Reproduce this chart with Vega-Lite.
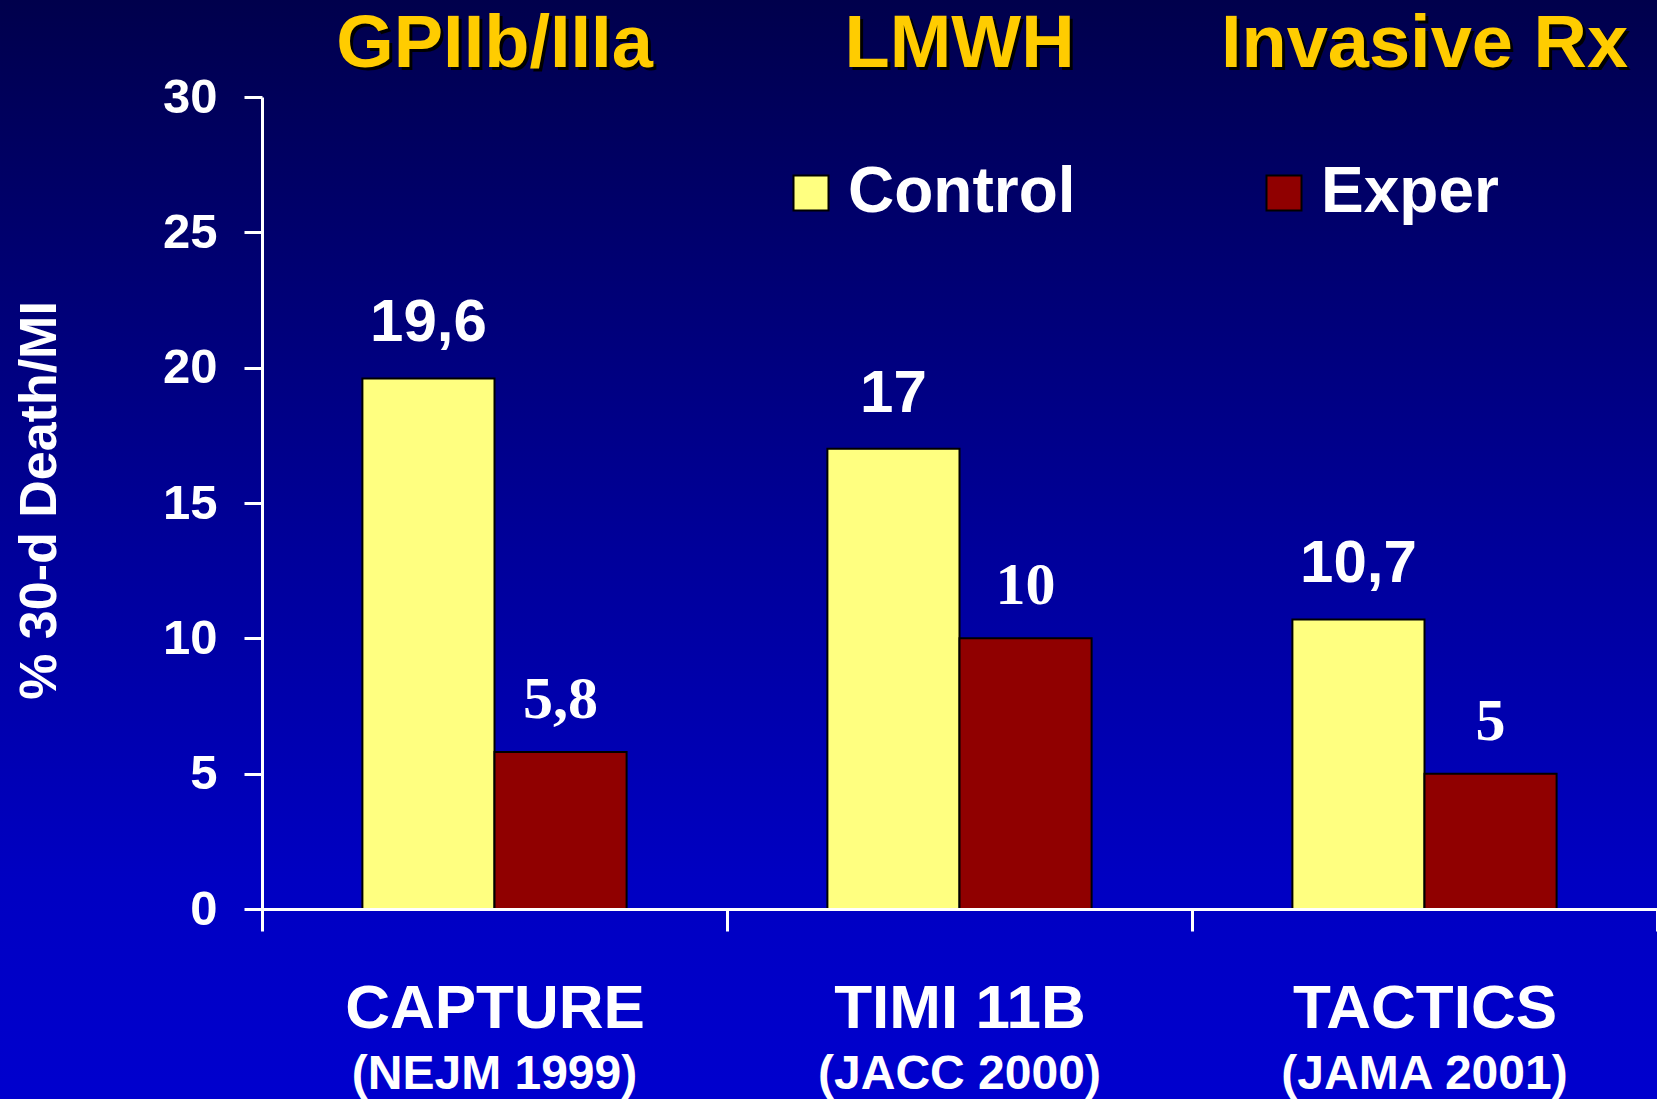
{
  "$schema": "https://vega.github.io/schema/vega-lite/v6.json",
  "width": 1395,
  "height": 812,
  "autosize": {"type": "none"},
  "padding": {"left": 262, "top": 97, "right": 0, "bottom": 190},
  "background": "#0000A0",
  "config": {
    "view": {"stroke": null},
    "font": "Liberation Sans",
    "locale": {"number": {"decimal": ",", "thousands": ".", "grouping": [3], "currency": ["", " €"]}}
  },
  "datasets": {
    "bars": [
      {"trial": "CAPTURE", "series": "Control", "value": 19.6},
      {"trial": "CAPTURE", "series": "Exper", "value": 5.8},
      {"trial": "TIMI 11B", "series": "Control", "value": 17},
      {"trial": "TIMI 11B", "series": "Exper", "value": 10},
      {"trial": "TACTICS", "series": "Control", "value": 10.7},
      {"trial": "TACTICS", "series": "Exper", "value": 5}
    ],
    "groups": [
      {"trial": "CAPTURE", "drug": "GPIIb/IIIa", "cite": "(NEJM 1999)"},
      {"trial": "TIMI 11B", "drug": "LMWH", "cite": "(JACC 2000)"},
      {"trial": "TACTICS", "drug": "Invasive Rx", "cite": "(JAMA 2001)"}
    ],
    "bg": [{"k": 1}]
  },
  "resolve": {"scale": {"x": "independent", "y": "independent"}},
  "layer": [
    {
      "data": {"name": "bg"},
      "mark": {
        "type": "rect",
        "clip": false,
        "fill": {
          "gradient": "linear",
          "x1": 0, "y1": 0, "x2": 0, "y2": 1,
          "stops": [
            {"offset": 0, "color": "#00004C"},
            {"offset": 0.5, "color": "#00009A"},
            {"offset": 0.8, "color": "#0000C2"},
            {"offset": 1, "color": "#0000CE"}
          ]
        }
      },
      "encoding": {
        "x": {"datum": -0.18781, "type": "quantitative", "scale": {"domain": [0, 1], "nice": false, "zero": false}, "axis": null},
        "x2": {"datum": 1},
        "y": {"datum": 1.1195, "type": "quantitative", "scale": {"domain": [0, 1], "nice": false, "zero": false}, "axis": null},
        "y2": {"datum": -0.234}
      }
    },
    {
      "data": {"name": "bars"},
      "layer": [
        {
          "mark": {"type": "bar", "stroke": "black", "strokeWidth": 2},
          "encoding": {
            "x": {
              "field": "trial", "type": "nominal", "sort": ["CAPTURE", "TIMI 11B", "TACTICS"],
              "scale": {"paddingInner": 0, "paddingOuter": 0},
              "title": null,
              "axis": {
                "zindex": 2,
                "tickBand": "extent",
                "domainColor": "white", "domainWidth": 3,
                "tickColor": "white", "tickWidth": 3, "tickSize": 22,
                "labelColor": "white", "labelFont": "Liberation Sans", "labelFontWeight": "bold", "labelFontSize": 62,
                "labelAngle": 0, "labelBaseline": "alphabetic", "labelPadding": 96, "labelLimit": 0
              }
            },
            "xOffset": {"field": "series", "sort": ["Control", "Exper"], "scale": {"domain": ["Control", "Exper"], "paddingInner": 0, "paddingOuter": 0.76}},
            "y": {
              "field": "value", "type": "quantitative",
              "scale": {"domain": [0, 30], "nice": false},
              "title": "% 30-d Death/MI",
              "axis": {
                "zindex": 2,
                "values": [0, 5, 10, 15, 20, 25, 30],
                "grid": false,
                "domainColor": "white", "domainWidth": 3,
                "tickColor": "white", "tickWidth": 3, "tickSize": 18,
                "labelColor": "white", "labelFont": "Liberation Sans", "labelFontWeight": "bold", "labelFontSize": 49,
                "labelPadding": 27,
                "titleColor": "white", "titleFont": "Liberation Sans", "titleFontWeight": "bold", "titleFontSize": 52,
                "titleAngle": 270, "titleAlign": "center", "titleBaseline": "alphabetic",
                "titleX": -207, "titleY": 403
              }
            },
            "color": {
              "field": "series", "type": "nominal",
              "scale": {"domain": ["Control", "Exper"], "range": ["#FFFF80", "#900000"]},
              "legend": {
                "title": null, "orient": "none", "direction": "horizontal",
                "legendX": 517, "legendY": 64, "padding": 0,
                "symbolType": "square", "symbolSize": 1225, "symbolStrokeColor": "black", "symbolStrokeWidth": 2, "symbolOpacity": 1,
                "labelColor": "white", "labelFont": "Liberation Sans", "labelFontWeight": "bold", "labelFontSize": 64,
                "labelOffset": 5, "columnPadding": 176, "labelLimit": 0
              }
            }
          }
        },
        {
          "transform": [{"filter": "datum.series === 'Control'"}],
          "mark": {"type": "text", "color": "white", "font": "Liberation Sans", "fontWeight": "bold", "fontSize": 60, "baseline": "alphabetic", "dy": -37},
          "encoding": {
            "x": {"field": "trial", "type": "nominal", "sort": ["CAPTURE", "TIMI 11B", "TACTICS"], "title": null},
            "xOffset": {"field": "series", "sort": ["Control", "Exper"]},
            "y": {"field": "value", "type": "quantitative", "title": "% 30-d Death/MI"},
            "text": {"field": "value", "type": "quantitative", "format": ".1~f"}
          }
        },
        {
          "transform": [{"filter": "datum.series === 'Exper'"}],
          "mark": {"type": "text", "color": "white", "font": "Liberation Serif", "fontWeight": "bold", "fontSize": 60, "baseline": "alphabetic", "dy": -34},
          "encoding": {
            "x": {"field": "trial", "type": "nominal", "sort": ["CAPTURE", "TIMI 11B", "TACTICS"], "title": null},
            "xOffset": {"field": "series", "sort": ["Control", "Exper"]},
            "y": {"field": "value", "type": "quantitative", "title": "% 30-d Death/MI"},
            "text": {"field": "value", "type": "quantitative", "format": ".1~f"}
          }
        },
        {
          "data": {"name": "groups"},
          "mark": {"type": "text", "color": "black", "font": "Liberation Sans", "fontWeight": "bold", "fontSize": 74, "baseline": "alphabetic", "dx": 3, "dy": 3},
          "encoding": {
            "x": {"field": "trial", "type": "nominal", "sort": ["CAPTURE", "TIMI 11B", "TACTICS"], "title": null},
            "y": {"datum": 31.11, "type": "quantitative", "title": "% 30-d Death/MI"},
            "text": {"field": "drug"}
          }
        },
        {
          "data": {"name": "groups"},
          "mark": {"type": "text", "color": "#FFCC00", "font": "Liberation Sans", "fontWeight": "bold", "fontSize": 74, "baseline": "alphabetic"},
          "encoding": {
            "x": {"field": "trial", "type": "nominal", "sort": ["CAPTURE", "TIMI 11B", "TACTICS"], "title": null},
            "y": {"datum": 31.11, "type": "quantitative", "title": "% 30-d Death/MI"},
            "text": {"field": "drug"}
          }
        },
        {
          "data": {"name": "groups"},
          "mark": {"type": "text", "color": "white", "font": "Liberation Sans", "fontWeight": "bold", "fontSize": 48, "baseline": "alphabetic"},
          "encoding": {
            "x": {"field": "trial", "type": "nominal", "sort": ["CAPTURE", "TIMI 11B", "TACTICS"], "title": null},
            "y": {"datum": -6.65, "type": "quantitative", "title": "% 30-d Death/MI"},
            "text": {"field": "cite"}
          }
        }
      ]
    }
  ]
}
